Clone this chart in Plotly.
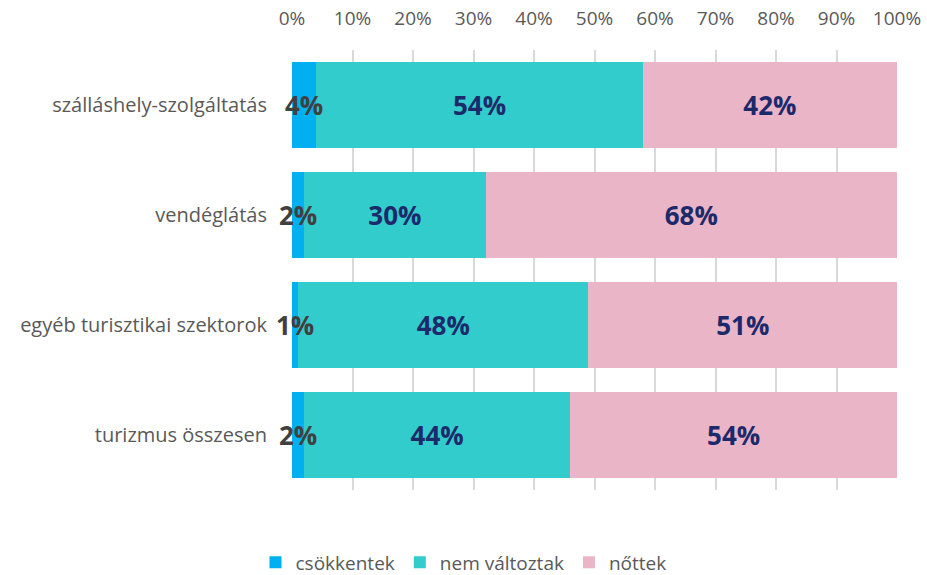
import plotly.graph_objects as go

categories = ["szálláshely-szolgáltatás", "vendéglátás", "egyéb turisztikai szektorok", "turizmus összesen"]
series_names = ["csökkentek", "nem változtak", "nőttek"]
csokkentek = [4, 2, 1, 2]
nem_valtoztak = [54, 30, 48, 44]
nottek = [42, 68, 51, 54]
tick_vals = [0, 10, 20, 30, 40, 50, 60, 70, 80, 90, 100]
tick_text = [f"{v}%" for v in tick_vals]

colors = ["#00B0F0", "#33CCCC", "#EBB5C8"]
label_colors = ["#404040", "#1C2A6B", "#1C2A6B"]
label_font = "Open Sans"
label_size = 26

fig = go.Figure()
for i, (name, vals, col, lc) in enumerate(zip(series_names, [csokkentek, nem_valtoztak, nottek], colors, label_colors)):
    fig.add_trace(go.Bar(
        y=categories, x=vals, name=name, orientation="h",
        marker=dict(color=col, line=dict(width=0)),
        text=None if i == 0 else [f"{v}%" for v in vals],
        textposition="inside", textangle=0,
        insidetextanchor="middle", constraintext="none",
        textfont=dict(family=label_font, size=label_size, color=lc, weight="bold"),
    ))

# labels for the thin first segment, drawn on top of the other bars
for cat, v in zip(categories, csokkentek):
    fig.add_annotation(x=v / 2, y=cat, text=f"{v}%", showarrow=False,
                       xanchor="center", yanchor="middle",
                       font=dict(family=label_font, size=label_size, color=label_colors[0], weight="bold"))

fig.update_layout(
    barmode="stack", bargap=0.21,
    width=927, height=575,
    margin=dict(l=292, r=30, t=50, b=85, autoexpand=False),
    paper_bgcolor="white", plot_bgcolor="white",
    font=dict(family="Open Sans", color="#595959"),
    showlegend=True,
    legend=dict(orientation="h", xref="container", yref="container", x=0.5, y=0.022,
                xanchor="center", yanchor="middle", font=dict(size=19, color="#595959"),
                traceorder="normal", itemwidth=30),
)
fig.update_xaxes(side="top", range=[0, 100], tickvals=tick_vals, ticktext=tick_text,
                 showgrid=True, gridcolor="#D9D9D9", gridwidth=1.5, zeroline=False,
                 ticks="outside", ticklen=16, tickcolor="white", automargin=False,
                 tickfont=dict(size=19, color="#595959"), fixedrange=True)
fig.update_yaxes(autorange="reversed", categoryorder="array", categoryarray=categories,
                 ticks="outside", ticklen=20, tickcolor="white", automargin=False,
                 tickfont=dict(size=20, color="#595959"), showgrid=False, zeroline=False)

fig.write_html("out.html")
